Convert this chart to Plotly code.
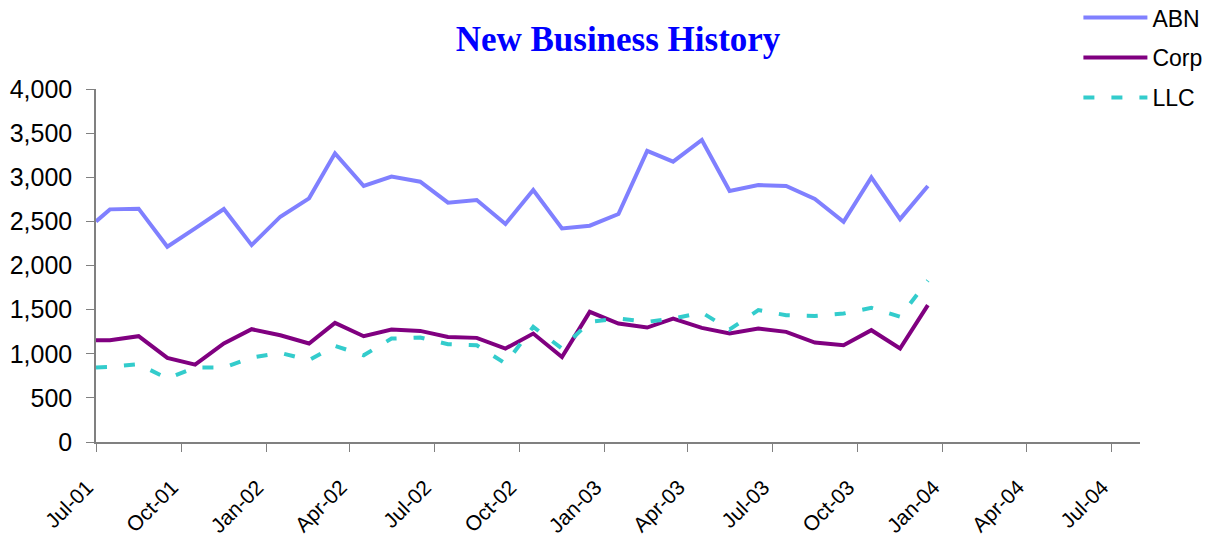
import plotly.graph_objects as go

dates = ["2001-07-01",
         "2001-07-16", "2001-08-16", "2001-09-16", "2001-10-16", "2001-11-16", "2001-12-16",
         "2002-01-16", "2002-02-16", "2002-03-16", "2002-04-16", "2002-05-16", "2002-06-16",
         "2002-07-16", "2002-08-16", "2002-09-16", "2002-10-16", "2002-11-16", "2002-12-16",
         "2003-01-16", "2003-02-16", "2003-03-16", "2003-04-16", "2003-05-16", "2003-06-16",
         "2003-07-16", "2003-08-16", "2003-09-16", "2003-10-16", "2003-11-16", "2003-12-16"]

abn = [2500,
       2636, 2644, 2212, 2420, 2640, 2231,
       2553, 2761, 3271, 2901, 3007, 2950,
       2712, 2742, 2470, 2855, 2420, 2451,
       2583, 3298, 3177, 3423, 2844, 2912,
       2901, 2753, 2496, 2999, 2526, 2901]

corp = [1153,
        1153, 1199, 953, 877, 1116, 1278,
        1210, 1116, 1350, 1199, 1275, 1259,
        1191, 1180, 1059, 1229, 964, 1475,
        1343, 1297, 1399, 1293, 1229, 1286,
        1248, 1127, 1097, 1267, 1059, 1551]

llc = [845,
       851, 881, 719, 843, 843, 957,
       1010, 927, 1089, 983, 1172, 1184,
       1108, 1097, 889, 1305, 1059, 1362,
       1399, 1362, 1399, 1467, 1275, 1494,
       1437, 1429, 1456, 1520, 1420, 1830]

tick_vals = ["2001-07-01", "2001-10-01", "2002-01-01", "2002-04-01", "2002-07-01",
             "2002-10-01", "2003-01-01", "2003-04-01", "2003-07-01", "2003-10-01",
             "2004-01-01", "2004-04-01", "2004-07-01"]
tick_text = ["Jul-01", "Oct-01", "Jan-02", "Apr-02", "Jul-02", "Oct-02", "Jan-03",
             "Apr-03", "Jul-03", "Oct-03", "Jan-04", "Apr-04", "Jul-04"]

y_ticks = [0, 500, 1000, 1500, 2000, 2500, 3000, 3500, 4000]

fig = go.Figure()
fig.add_trace(go.Scatter(x=dates, y=abn, name="ABN", mode="lines",
                         line=dict(color="#8080FF", width=4), legendgroup="a"))
fig.add_trace(go.Scatter(x=dates, y=corp, name="Corp", mode="lines",
                         line=dict(color="#800080", width=4), legendgroup="b"))
fig.add_trace(go.Scatter(x=dates, y=llc, name="LLC", mode="lines",
                         line=dict(color="#33CCCC", width=4, dash="11px,17px"), legendgroup="c"))

# page body has an 8px margin, so the figure is 8px smaller than the window
W, H = 1204, 533
fig.update_layout(
    width=W, height=H,
    margin=dict(l=88, r=72, t=81, b=99, autoexpand=False),
    paper_bgcolor="white", plot_bgcolor="white",
    font=dict(family="Arial, Liberation Sans, sans-serif", size=24, color="black"),
    title=dict(text="<b>New Business History</b>", x=0.5, xref="paper", xanchor="center",
               y=1 - 31 / H, yref="container", yanchor="middle",
               font=dict(family="Liberation Serif, Times New Roman, serif", size=35, color="#0000FF")),
    showlegend=True,
    legend=dict(x=0.941, xanchor="left", y=1.263, yanchor="top",
                font=dict(size=23), bgcolor="rgba(0,0,0,0)", tracegroupgap=7,
                itemwidth=64),
)

fig.update_xaxes(type="date", range=["2001-07-01", "2004-08-01"],
                 tickmode="array", tickvals=tick_vals, ticktext=tick_text,
                 tickangle=-45, ticks="outside", ticklen=8, tickcolor="#808080",
                 showline=True, linecolor="#808080", linewidth=1.5,
                 showgrid=False, zeroline=False, tickfont=dict(size=21),
                 ticklabelstandoff=15, ticklabelshift=-9,
                 automargin=False)
fig.update_yaxes(range=[0, 4000], tickmode="array", tickvals=y_ticks,
                 tickformat=",d", ticks="outside", ticklen=8, tickcolor="#808080",
                 showline=True, linecolor="#808080", linewidth=1.5,
                 showgrid=False, zeroline=False, tickfont=dict(size=25),
                 ticklabelstandoff=9, automargin=False)

fig.write_html("out.html")
